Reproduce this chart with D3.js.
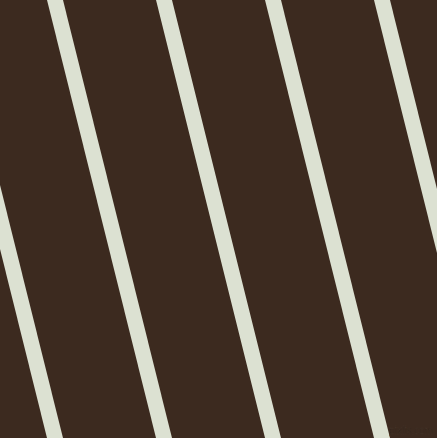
<!DOCTYPE html>
<html>
<head>
<meta charset="utf-8">
<script src="https://cdn.jsdelivr.net/npm/d3@7.9.0/dist/d3.min.js"></script>
<style>
  html, body { margin: 0; padding: 0; background: #3c2a1f; overflow: hidden; }
  svg { display: block; }
</style>
</head>
<body>
<div id="chart"></div>
<script>
// stripe indices (one line per entry)
const stripes = [0, 1, 2, 3, 4];
// where each stripe crosses the top and bottom edge, in stripe units
const topOffsets = [-0.5, 0.5, 1.5, 2.5, 3.5];
const bottomOffsets = [0.5, 1.5, 2.5, 3.5, 4.5];
const watermark = 'pixlis.com';

const width = 437;
const height = 438;

const svg = d3
  .select('#chart')
  .append('svg')
  .attr('width', width)
  .attr('height', height);

svg.append('rect')
  .attr('width', width)
  .attr('height', height)
  .attr('fill', '#3c2a1f');

// stripe unit -> horizontal position
const xScale = d3.scaleLinear().domain([0, 1]).range([0.5, 109.5]);
const yScale = d3.scaleLinear().domain([0, 1]).range([0, height]);

svg.append('g')
  .selectAll('line')
  .data(stripes)
  .join('line')
  .attr('x1', (d) => xScale(topOffsets[d]))
  .attr('y1', yScale(0))
  .attr('x2', (d) => xScale(bottomOffsets[d]))
  .attr('y2', yScale(1))
  .attr('stroke', '#dce1d2')
  .attr('stroke-width', 15.5)
  .attr('stroke-linecap', 'square');

svg.append('text')
  .attr('x', 433)
  .attr('y', 434)
  .attr('text-anchor', 'end')
  .attr('textLength', 44)
  .attr('lengthAdjust', 'spacingAndGlyphs')
  .attr('font-family', 'DejaVu Sans Condensed, DejaVu Sans, sans-serif')
  .attr('font-size', 10)
  .attr('fill', '#2a1d14')
  .attr('stroke', '#4a382c')
  .attr('stroke-width', 0.3)
  .text(watermark);
</script>
</body>
</html>
